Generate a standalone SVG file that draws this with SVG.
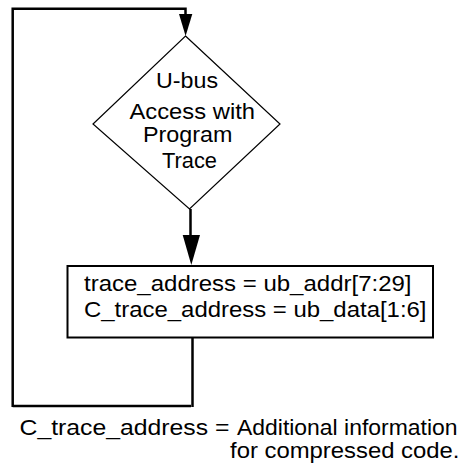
<svg xmlns="http://www.w3.org/2000/svg" width="461" height="469" viewBox="0 0 461 469">
<style>
text{font-family:"Liberation Sans",Arial,Helvetica,sans-serif;font-size:22px;fill:#000}
.c{fill:none;stroke:#000;stroke-width:2.5}
.n{fill:#fff;stroke:#000}
</style>
<rect width="461" height="469" fill="#fff"/>
<g id="connectors">
<path class="c" d="M191,406 L12.7,406 M12.7,407 L12.7,8.7 L185.5,8.7 L185.5,15"/>
<path d="M179,14 L192.3,14 L185.6,36 Z" fill="#000"/>
<path class="c" d="M190.5,209 L190.5,236"/>
<path d="M182.7,235 L200,235 L191.3,265 Z" fill="#000"/>
<path class="c" d="M192.5,338 L192.5,407"/>
</g>
<g id="decision">
<path class="n" stroke-width="1.2" d="M185.5,36 L280,124 L189.5,209 L93,124 Z"/>
<text x="156" y="88" textLength="62" lengthAdjust="spacingAndGlyphs">U-bus</text>
<text x="129.5" y="119" textLength="125.5" lengthAdjust="spacingAndGlyphs">Access with</text>
<text x="143" y="142" textLength="89.5" lengthAdjust="spacingAndGlyphs">Program</text>
<text x="162" y="168" textLength="55" lengthAdjust="spacingAndGlyphs">Trace</text>
</g>
<g id="assign">
<rect class="n" stroke-width="2" x="67.5" y="266" width="365.5" height="71.5"/>
<text x="84" y="291" textLength="327.5" lengthAdjust="spacingAndGlyphs">trace_address = ub_addr[7:29]</text>
<text x="84" y="317" textLength="342.5" lengthAdjust="spacingAndGlyphs">C_trace_address = ub_data[1:6]</text>
</g>
<g id="note">
<text y="435"><tspan x="19.5" textLength="210" lengthAdjust="spacingAndGlyphs">C_trace_address =</tspan><tspan x="237" textLength="220.5" lengthAdjust="spacingAndGlyphs">Additional information</tspan></text>
<text x="230" y="458" textLength="229.5" lengthAdjust="spacingAndGlyphs">for compressed code.</text>
</g>
</svg>
